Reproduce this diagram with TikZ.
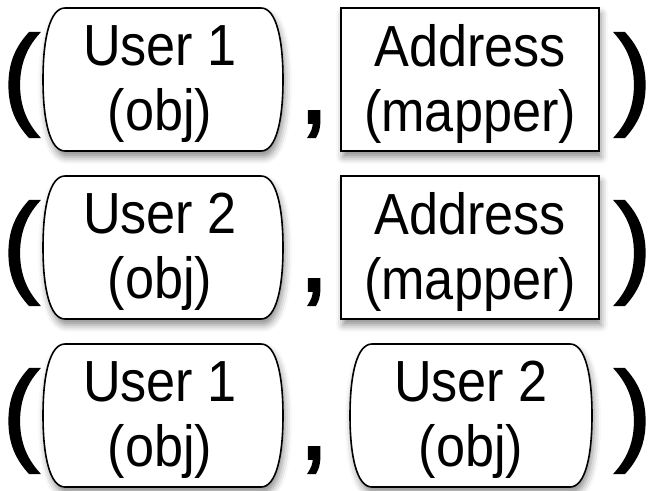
\documentclass[tikz,border=0pt]{standalone}
\usepackage{fontspec}
\setmainfont{Liberation Sans}
\newfontfamily\labelfont[FakeStretch=0.9]{Liberation Sans}
\newfontfamily\punctfont[FakeBold=1.6]{Liberation Sans}
\usetikzlibrary{shadows.blur}

% Barrel outline: flat top and bottom, bulging sides.
% Arguments: left, top, right, bottom (y grows downwards).
\newcommand\barrelpath[4]{%
  ({#1+22},#2) -- ({#3-22},#2)
  .. controls ({#3-7},#2) and (#3,{#2+30}) .. (#3,{(#2+#4)/2})
  .. controls (#3,{#4-30}) and ({#3-7},#4) .. ({#3-22},#4)
  -- ({#1+22},#4)
  .. controls ({#1+7},#4) and (#1,{#4-30}) .. (#1,{(#2+#4)/2})
  .. controls (#1,{#2+30}) and ({#1+7},#2) .. cycle}

\tikzset{
  boxshadow/.style={blur shadow={shadow xshift=2pt, shadow yshift=-6pt,
      shadow blur radius=7pt, shadow opacity=45}},
  barrel/.style={draw=black, line width=1.6pt, fill=white, boxshadow},
  mapperbox/.style={draw=black, line width=1.6pt, fill=white, boxshadow},
  lbl/.style={font=\labelfont\fontsize{58}{65}\selectfont, align=center,
      inner sep=0pt, anchor=center},
  punct/.style={font=\punctfont\fontsize{112}{112}\selectfont, inner sep=0pt,
      anchor=base},
}

\begin{document}
\begin{tikzpicture}[x=1pt, y=-1pt]
  \useasboundingbox (0,0) rectangle (655,490);

  % ---- row 1: (User 1, Address mapper)
  \path[barrel] \barrelpath{43}{8}{283}{151};
  \draw[mapperbox] (341,8) rectangle (599,151);
  \node[lbl] (u1a) at (160,84) {User 1\\(obj)};
  \node[lbl] (ad1) at (470,84) {Address\\(mapper)};
  \node[punct] (lp1) at (21,114) {(};
  \node[punct] (cm1) at (314,123) {,};
  \node[punct] (rp1) at (633,114) {)};

  % ---- row 2: (User 2, Address mapper)
  \path[barrel] \barrelpath{43}{176}{283}{319};
  \draw[mapperbox] (341,176) rectangle (599,319);
  \node[lbl] (u2a) at (160,252) {User 2\\(obj)};
  \node[lbl] (ad2) at (470,252) {Address\\(mapper)};
  \node[punct] (lp2) at (21,282) {(};
  \node[punct] (cm2) at (314,291) {,};
  \node[punct] (rp2) at (633,282) {)};

  % ---- row 3: (User 1, User 2)
  \path[barrel] \barrelpath{43}{344}{283}{487};
  \path[barrel] \barrelpath{350}{344}{592}{487};
  \node[lbl] (u1b) at (160,420) {User 1\\(obj)};
  \node[lbl] (u2b) at (471,420) {User 2\\(obj)};
  \node[punct] (lp3) at (21,450) {(};
  \node[punct] (cm3) at (314,459) {,};
  \node[punct] (rp3) at (633,450) {)};
\end{tikzpicture}
\end{document}
